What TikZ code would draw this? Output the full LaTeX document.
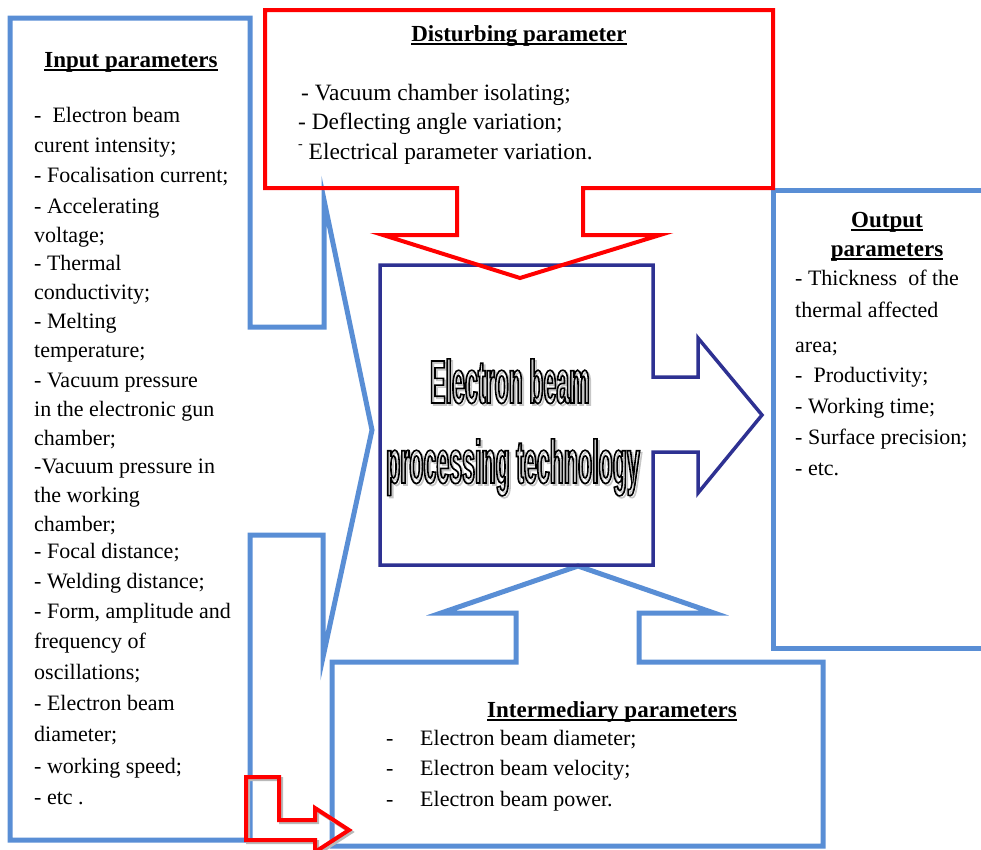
\documentclass[tikz,border=0pt]{standalone}
\usepackage{fontspec}
\usepackage{graphicx}
\setmainfont{Liberation Serif}
\newfontfamily\techfont[FakeStretch=0.38]{Liberation Sans}
\definecolor{paleblue}{RGB}{89,142,213}
\definecolor{inkblue}{RGB}{46,49,146}
\newsavebox\titlebox
\def\partitle#1{\sbox\titlebox{\textbf{#1}}\rlap{\rule[-3.5pt]{\wd\titlebox}{1.6pt}}\usebox\titlebox}
\def\hollowtext#1{\special{pdf:literal direct 1 Tr 1.6 w}#1\special{pdf:literal direct 0 Tr}}

\begin{document}
\begin{tikzpicture}[x=1pt, y=-1pt,
		pale/.style={draw=paleblue, line width=5pt, miter limit=25},
		redline/.style={draw=red, line width=4pt, miter limit=25},
		core/.style={draw=inkblue, line width=3.5pt, miter limit=25},
		bodytext/.style={font=\fontsize{22}{26}\selectfont, anchor=base west, inner sep=0pt},
		headtext/.style={font=\fontsize{23}{27}\selectfont, anchor=base, inner sep=0pt},
		bigtext/.style={font=\techfont\bfseries\fontsize{61}{70}\selectfont, anchor=base, inner sep=0pt}]
	%%%%% START %%%%%
	
	\useasboundingbox (0,0) rectangle (981,849);
	\clip (0,0) rectangle (981,849);
	
	% input parameters
	\draw[pale] (10,18) -- (250,18) -- (250,327) -- (324,327) -- (324,200) -- (372,430) -- (323,657) -- (323,535) -- (250,535) -- (250,840) -- (10,840) -- cycle;
	
	% output parameters
	\draw[pale] (990,190) -- (773,190) -- (773,648) -- (990,648);
	
	% intermediary parameters
	\draw[pale] (332,846) -- (332,662) -- (516,662) -- (516,613) -- (441,613) -- (578,566) -- (714,613) -- (639,613) -- (639,662) -- (823,662) -- (823,846) -- cycle;
	
	% technology block
	\draw[core] (380,265) -- (653,265) -- (653,377) -- (698,377) -- (698,338) -- (762,415) -- (698,493) -- (698,452) -- (653,452) -- (653,565) -- (380,565) -- cycle;
	
	% disturbing parameter
	\draw[redline] (265,10) -- (773,10) -- (773,188) -- (583,188) -- (583,235) -- (660,235) -- (520,278) -- (383,235) -- (457,235) -- (457,188) -- (265,188) -- cycle;
	
	% bent arrow
	\draw[redline, draw=gray!55, shift={(2,2)}] (246,777) -- (279,777) -- (279,820) -- (315,820) -- (315,808) -- (349,830) -- (315,852) -- (315,840) -- (246,840) -- cycle;
	\draw[redline] (246,777) -- (279,777) -- (279,820) -- (315,820) -- (315,808) -- (349,830) -- (315,852) -- (315,840) -- (246,840) -- cycle;
	
	\node[headtext] (intitle) at (131,67) {\partitle{Input parameters}};
	\foreach \y/\txt [count=\i] in {122/{-\ \ Electron beam}, 152/{curent intensity;}, 182/{- Focalisation current;},
			213/{- Accelerating}, 242/{voltage;}, 270/{- Thermal}, 299/{conductivity;}, 328/{- Melting},
			357/{temperature;}, 387/{- Vacuum pressure}, 416/{in the electronic gun}, 445/{chamber;},
			473/{-Vacuum pressure in}, 502/{the working}, 531/{chamber;}, 558/{- Focal distance;},
			588/{- Welding distance;}, 618/{- Form, amplitude and}, 648/{frequency of}, 679/{oscillations;},
			710/{- Electron beam}, 741/{diameter;}, 773/{- working speed;}, 804/{- etc .}}
		\node[bodytext] (in\i) at (34,\y) {\txt};
	
	\node[headtext] (disttitle) at (519,41) {\partitle{Disturbing parameter}};
	\node[bodytext, font=\fontsize{23.4}{27}\selectfont] (dist1) at (301,100) {- Vacuum chamber isolating;};
	\node[bodytext, font=\fontsize{23.4}{27}\selectfont] (dist2) at (298,129) {- Deflecting angle variation;};
	\node[bodytext, font=\fontsize{23.4}{27}\selectfont] (dist3) at (298,159) {\raisebox{0.45em}{\scalebox{0.6}{-}} Electrical parameter variation.};
	
	\node[headtext] (outtitle1) at (887,227) {\partitle{Output}};
	\node[headtext] (outtitle2) at (887,256) {\partitle{parameters}};
	\foreach \y/\txt [count=\i] in {285/{- Thickness\ \ of the}, 317/{thermal affected}, 352/{area;},
			382/{-\ \ Productivity;}, 413/{- Working time;}, 444/{- Surface precision;}, 475/{- etc.}}
		\node[bodytext] (out\i) at (795,\y) {\txt};
	
	\node[headtext] (midtitle) at (612,717) {\partitle{Intermediary parameters}};
	\foreach \y/\txt [count=\i] in {745/{Electron beam diameter;}, 775/{Electron beam velocity;}, 806/{Electron beam power.}}{
		\node[bodytext] (middash\i) at (386,\y) {-};
		\node[bodytext] (mid\i) at (420,\y) {\txt};
	}
	
	% shadow, then outline
	\node[bigtext, text=gray!45] (tech1s) at (512,405) {\hollowtext{Electron beam}};
	\node[bigtext, text=gray!45] (tech2s) at (515,485) {\hollowtext{processing technology}};
	\node[bigtext] (tech1) at (510,403) {\hollowtext{Electron beam}};
	\node[bigtext] (tech2) at (513,483) {\hollowtext{processing technology}};
	
	%%%%% END %%%%%
\end{tikzpicture}
\end{document}
